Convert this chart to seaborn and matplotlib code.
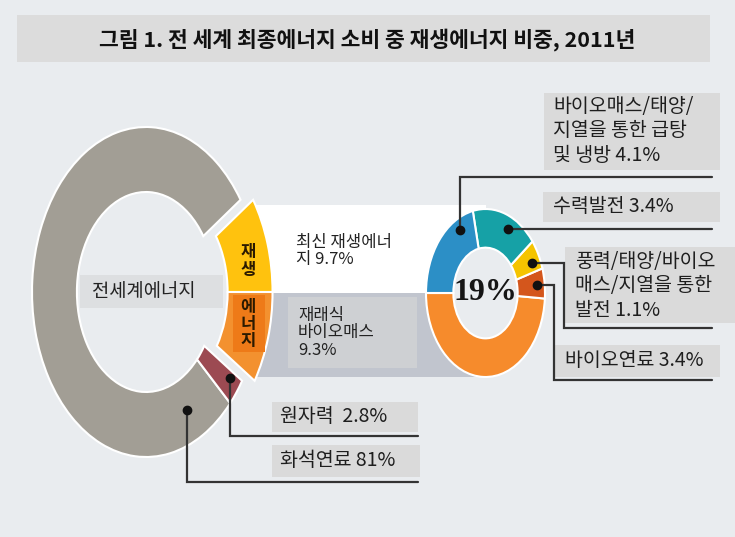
import numpy as np
import seaborn as sns
import matplotlib
from matplotlib import pyplot as plt
from matplotlib.patches import Rectangle, Circle
matplotlib.use('Agg')

sns.set_style('white')
plt.rcParams['font.family'] = ['Noto Sans CJK KR', 'DejaVu Sans']

W, H = 735, 537
bg = '#E9ECEF'

# left donut: world final energy consumption (%)
world_names = ['최신 재생에너지', '화석연료', '원자력', '재래식 바이오매스']
world_values = [9.7, 81, 2.8, 9.3]
world_colors = sns.color_palette(['#FFC20E', '#A29E95', '#9C4A52', '#F3912F'])

# right donut: renewable share split (%)
ren_names = ['재래식 바이오매스', '바이오연료', '풍력/태양/바이오매스/지열 발전', '수력발전', '급탕 및 냉방']
ren_values = [9.3, 1.1, 1.1, 3.4, 4.1]
ren_colors = sns.color_palette(['#F68B2C', '#D4561C', '#F5C400', '#16A1A6', '#2C8FC6'])

title = '그림 1. 전 세계 최종에너지 소비 중 재생에너지 비중, 2011년'
right_labels = ['바이오매스/태양/\n지열을 통한 급탕\n및 냉방 4.1%',
                '수력발전 3.4%',
                '풍력/태양/바이오\n매스/지열을 통한\n발전 1.1%',
                '바이오연료 3.4%']
left_labels = ['원자력  2.8%', '화석연료 81%']

fig = plt.figure(figsize=(W / 100, H / 100), dpi=100)
fig.patch.set_facecolor(bg)

# background layer in pixel coordinates
ax_bg = fig.add_axes([0, 0, 1, 1])
ax_bg.set_xlim(0, W)
ax_bg.set_ylim(H, 0)
ax_bg.axis('off')

ax_bg.add_patch(Rectangle((17, 15), 693, 47, color='#DCDCDC', lw=0))
ax_bg.text(367, 40, title, ha='center', va='center', fontsize=15.5,
           fontweight='bold', color='#111111')

# band linking the two donuts
ax_bg.add_patch(Rectangle((256, 205), 230, 88, color='white', lw=0))
ax_bg.add_patch(Rectangle((256, 293), 230, 84, color='#C1C5CE', lw=0))
ax_bg.add_patch(Rectangle((288, 297), 129, 71, color='#CED0D3', lw=0))


def donut_axes(cx, cy, a, b, k=1.3):
    return fig.add_axes([(cx - a * k) / W, 1 - (cy + b * k) / H,
                         2 * a * k / W, 2 * b * k / H])


def finish(ax, k=1.3):
    ax.set_xlim(-k, k)
    ax.set_ylim(-k, k)
    ax.set_aspect('auto')
    ax.axis('off')


# left donut
ax_l = donut_axes(146, 292, 114, 165)
wedges, _ = ax_l.pie(world_values, colors=world_colors, startangle=0,
                     radius=1, wedgeprops=dict(width=0.394, edgecolor='white', lw=1.5))
for i in (0, 3):
    wedges[i].set_center((0.11, 0))
finish(ax_l)

# right donut
ax_r = donut_axes(485.5, 293, 59.5, 84)
ax_r.add_patch(Circle((0, 0), 0.56, color=bg, lw=0, zorder=0))
ax_r.pie(ren_values, colors=ren_colors, startangle=180, radius=1,
         wedgeprops=dict(width=0.46, edgecolor='white', lw=1.5))
finish(ax_r)

# overlay: texts, boxes and callouts
ax = fig.add_axes([0, 0, 1, 1])
ax.set_xlim(0, W)
ax.set_ylim(H, 0)
ax.axis('off')

ax.add_patch(Rectangle((233, 295), 32, 57, color='#EE7A18', lw=0))
ax.text(248, 261, '재\n생', ha='center', va='center', fontsize=12,
        linespacing=0.95, color='#2B1A00', fontweight='bold')
ax.text(248, 324, '에\n너\n지', ha='center', va='center', fontsize=12,
        linespacing=0.9, color='#2B1A00', fontweight='bold')

ax.text(296, 251, '최신 재생에너\n지 9.7%', ha='left', va='center',
        fontsize=12, linespacing=1.05, color='#222222')
ax.text(298, 333, '재래식\n바이오매스\n9.3%', ha='left', va='center',
        fontsize=12, linespacing=1.05, color='#222222')

ax.text(485, 293, '19%', ha='center', va='center', fontsize=23,
        fontweight='bold', family=['Liberation Serif', 'DejaVu Serif'],
        color='#151515')

# world energy label inside the left ring
ax.add_patch(Rectangle((80, 275), 143, 33, color='#DDDFE1', lw=0))
ax.text(144, 291, '전세계에너지', ha='center', va='center', fontsize=13.5,
        color='#222222')

boxes = [(544, 93, 176, 77), (543, 192, 177, 30), (565, 247, 170, 76),
         (554, 345, 166, 32), (272, 402, 146, 30), (272, 445, 148, 32)]
text_pos = [(553, 131), (553, 207), (575, 286), (565, 361), (280, 417), (280, 461)]
paths = [[(460, 230), (460, 177), (712, 177)],
         [(508, 229), (712, 229)],
         [(532, 263), (564, 263), (564, 328), (712, 328)],
         [(537, 285), (554, 285), (554, 380), (712, 380)],
         [(230, 378), (230, 436), (418, 436)],
         [(187, 410), (187, 482), (418, 482)]]

for (bx, by, bw, bh), (tx, ty), label in zip(boxes, text_pos, right_labels + left_labels):
    ax.add_patch(Rectangle((bx, by), bw, bh, color='#DADADA', lw=0))
    ax.text(tx, ty, label, ha='left', va='center', fontsize=14,
            linespacing=1.2, color='#1E1E1E')

for p in paths:
    xs, ys = zip(*p)
    ax.plot(xs, ys, color='#333333', lw=1.6, solid_joinstyle='miter')
    ax.plot(xs[0], ys[0], 'o', color='#111111', ms=6)

fig.savefig('out.png', dpi=100, facecolor=bg)
